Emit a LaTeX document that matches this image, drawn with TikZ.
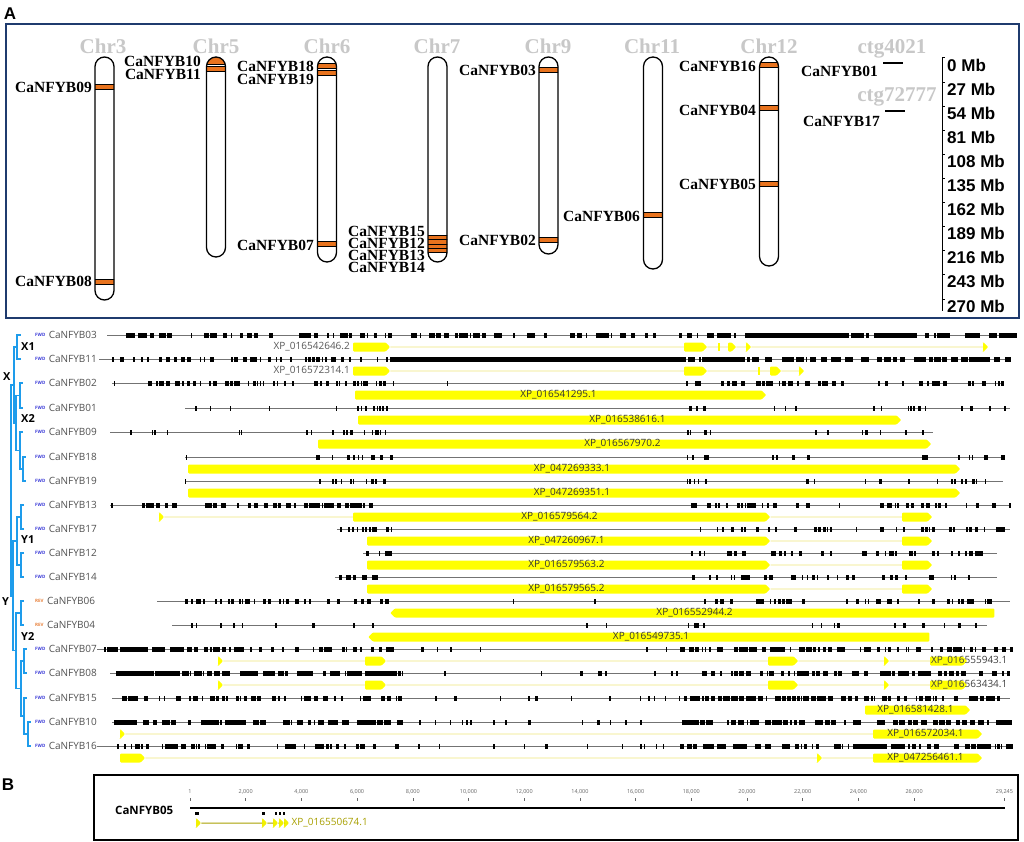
\documentclass[tikz,border=0pt]{standalone}
\usepackage{fontspec}
\setmainfont{Liberation Serif}
\newfontfamily\osans{Open Sans}
\newfontfamily\lsans{Liberation Sans}
\usetikzlibrary{positioning,shapes.symbols}

\definecolor{frameblue}{HTML}{1F3B6E}
\definecolor{bandorange}{HTML}{E8731E}
\definecolor{chrgray}{HTML}{C8C8C8}
\definecolor{treeblue}{HTML}{1E9CEB}
\definecolor{fwdblue}{HTML}{3A3AD8}
\definecolor{revorange}{HTML}{E8803A}
\definecolor{cdsyellow}{HTML}{FFFF00}
\definecolor{intronyellow}{HTML}{EEE87A}
\definecolor{olivetext}{HTML}{A8A000}

\tikzset{
  chrom/.style={draw, line width=1.3pt, rounded corners=9.5pt, minimum width=19pt, inner sep=0pt},
  band/.style={fill=bandorange, draw=black, line width=0.8pt},
  chrlab/.style={text=chrgray, font=\bfseries\fontsize{21}{21}\selectfont, inner sep=0pt},
  glab/.style={font=\bfseries\fontsize{15.5}{16}\selectfont, inner sep=1pt, anchor=east},
  mblab/.style={font=\lsans\bfseries\fontsize{17}{17}\selectfont, anchor=west, inner sep=0pt},
  plab/.style={font=\lsans\bfseries\fontsize{17}{17}\selectfont, inner sep=0pt},
  ctgbar/.style={fill=black, minimum width=20pt, minimum height=1.8pt, inner sep=0pt},
  tree/.style={draw=treeblue, line width=1.2pt},
  clade/.style={font=\osans\bfseries\fontsize{11}{11}\selectfont, inner sep=0pt, anchor=west},
  fwd/.style={text=fwdblue, font=\osans\bfseries\fontsize{4.5}{5}\selectfont, inner sep=0pt, anchor=west},
  rev/.style={fwd, text=revorange},
  gname/.style={text=black!68, font=\osans\fontsize{10}{10}\selectfont, inner sep=1pt},
  track/.style={draw=black!55, line width=0.7pt},
  exon/.style={fill=black},
  cds/.style={signal, signal to=east, fill=cdsyellow, minimum height=9pt, inner sep=0pt,
    text height=6.5pt, text depth=1.5pt, rounded corners=1pt, anchor=west,
    text=black!80, font=\osans\fontsize{10}{10}\selectfont},
  cdsl/.style={cds, signal to=west},
  tri/.style={cds, minimum width=5pt},
  tick/.style={fill=cdsyellow, minimum width=1.3pt, minimum height=8pt, inner sep=0pt},
  intron/.style={draw=intronyellow, line width=0.7pt},
  xlab/.style={text=black!65, font=\osans\fontsize{10}{10}\selectfont, inner sep=0pt},
  ruler/.style={text=black!60, font=\osans\fontsize{5.5}{6}\selectfont, inner sep=0pt}
}

\newcommand\chromosome[5]{%
  \begin{scope}
    \clip[rounded corners=9.5pt] (#2-9.5,#3) rectangle (#2+9.5,#4);
    \foreach \ya/\yb in {#5}
      \filldraw[band] (#2-11,\ya) rectangle (#2+11,\yb);
  \end{scope}
  \node (#1) [chrom, minimum height={#4-#3}] at (#2,{(#3+#4)/2}) {};}

\newcommand\exonset[5]{%
  \foreach \k in {1,...,#4}{%
    \pgfmathsetmacro\ex{#2+rnd*(#3-#2)}%
    \pgfmathsetmacro\ew{0.8+rnd*(#5-0.8)}%
    \fill[exon] (\ex,#1-2.5) rectangle ++(\ew,5);
  }}

\begin{document}
\begin{tikzpicture}[x=1pt, y=-1pt]
\useasboundingbox[fill=white] (0,0) rectangle (1024,842);
\pgfmathsetseed{4021}

% panel A: chromosome map
\node (pA) [plab] at (10,14) {A};
\node (boxA) [draw=frameblue, line width=2pt, minimum width=1013pt, minimum height=294pt, inner sep=0pt] at (512.5,171) {};

\chromosome{chr3}{104.5}{57}{300}{84/89, 279/284}
\chromosome{chr5}{216}{57}{257}{50/64, 66.5/71.5}
\chromosome{chr6}{327}{57}{262}{63.5/68.5, 70/75, 241/246}
\chromosome{chr7}{437.5}{57}{262}{235/239.5, 239.5/244, 244/248, 248/252.5}
\chromosome{chr9}{548.5}{57}{254}{67/72, 237.5/242.5}
\chromosome{chr11}{653}{57}{269}{212.5/217.5}
\chromosome{chr12}{769}{57}{266}{62.5/67.5, 105/110, 181/186}

\foreach \c/\x in {3/103, 5/216, 6/327, 7/437, 9/548, 11/652, 12/769}
  \node (lchr\c) [chrlab] at (\x,46) {Chr\c};
\node (lctg1) [chrlab] at (892,49) {ctg4021};
\node (lctg2) [chrlab] at (897,97) {ctg72777};
\node (ctg4021) [ctgbar] at (893,63) {};
\node (ctg72777) [ctgbar] at (895,111) {};

\foreach \g/\x/\y in {09/93/87, 08/93/281, 10/202/61, 11/202/74.5, 18/315/66.5, 19/315/79,
    07/315/245, 15/426/231, 12/426/243.5, 13/426/255.5, 14/426/267.5, 03/537/70.5,
    02/537/240, 06/641/216, 16/757/66.5, 04/757/110, 05/757/184, 01/879/71, 17/881/121.5}
  \node (g\g) [glab] at (\x,\y) {CaNFYB\g};

% scale in Mb
\draw[line width=1pt] (942,58) -- (942,311);
\foreach \i/\m in {0/0, 1/27, 2/54, 3/81, 4/108, 5/135, 6/162, 7/189, 8/216, 9/243, 10/270} {
  \draw[line width=1pt] (942,{58+24.1*\i}) -- ++(3,0);
  \node (mb\i) [mblab] at (947,{65+24.1*\i}) {\m\ Mb};
}

% tree and gene names
\foreach \g/\d/\s/\y in {03/fwd/FWD/335, 11/fwd/FWD/359, 02/fwd/FWD/383, 01/fwd/FWD/408,
    09/fwd/FWD/432, 18/fwd/FWD/457, 19/fwd/FWD/481, 13/fwd/FWD/505, 17/fwd/FWD/529,
    12/fwd/FWD/553, 14/fwd/FWD/577, 06/rev/REV/601, 04/rev/REV/625, 07/fwd/FWD/649,
    08/fwd/FWD/673, 15/fwd/FWD/698, 10/fwd/FWD/722, 16/fwd/FWD/746} {
  \node (f\g) [\d] at (35,\y) {\s};
  \node (n\g) [gname, right=2pt of f\g] {CaNFYB\g};
}

\foreach \g/\x/\y in {03/21/335, 11/21/359, 02/23/383, 01/23/408, 09/23/432, 18/26/457,
    19/26/481, 13/24/505, 17/24/529, 12/24/553, 14/24/577, 06/24/601, 04/24/625,
    07/27/649, 08/27/673, 15/27/698, 10/31/722, 16/31/746}
  \coordinate (t\g) at (\x,\y);
\coordinate (cX1) at (17,347);
\coordinate (c0201) at (20,395.5);
\coordinate (c1819) at (23,469);
\coordinate (c0918) at (20,450.5);
\coordinate (cX2) at (16,423);
\coordinate (cX) at (14,385);
\coordinate (c1317) at (21,517);
\coordinate (c1214) at (21,565);
\coordinate (cY1) at (17,541);
\coordinate (c0604) at (21,613);
\coordinate (c0708) at (24,661);
\coordinate (c1016) at (28,734);
\coordinate (c1510) at (24,716);
\coordinate (c0715) at (21,688.5);
\coordinate (cY2) at (16,650.75);
\coordinate (cY) at (13,596);
\coordinate (root) at (11,490.5);
\foreach \p/\q in {cX1/t03, cX1/t11, c0201/t02, c0201/t01, c1819/t18, c1819/t19,
    c0918/t09, c0918/c1819, cX2/c0201, cX2/c0918, cX/cX1, cX/cX2,
    c1317/t13, c1317/t17, c1214/t12, c1214/t14, cY1/c1317, cY1/c1214,
    c0604/t06, c0604/t04, c0708/t07, c0708/t08, c1016/t10, c1016/t16,
    c1510/t15, c1510/c1016, c0715/c0708, c0715/c1510, cY2/c0604, cY2/c0715,
    cY/cY1, cY/cY2, root/cX, root/cY}
  \draw[tree] (\p) |- (\q);
\node (lX) [clade] at (3,377) {X};
\node (lY) [clade] at (2,602) {Y};
\node (lX1) [clade] at (21,347) {X1};
\node (lX2) [clade] at (21,419) {X2};
\node (lY1) [clade] at (21,540) {Y1};
\node (lY2) [clade] at (21,637) {Y2};

% gene structures
\foreach \y/\a/\b in {335/107/1008, 359/99/1008, 383/112/1003, 408/185/1010, 432/110/933,
    457/185/1003, 481/185/1003, 505/110/1010, 529/337/1010, 553/363/997, 577/335/997,
    601/157/1010, 625/172/987, 649/97/1010, 673/110/1010, 698/112/1010, 722/112/1010, 746/97/1010}
  \draw[track] (\a,\y) -- (\b,\y);
\foreach \y/\a/\b/\n/\w in {335/108/707/105/5, 335/707/1008/60/14,
    359/110/390/50/3.5, 359/686/1008/90/7,
    383/112/116/1/2, 383/148/395/55/4, 383/440/450/1/1.5, 383/686/845/32/4, 383/870/1003/20/3,
    408/185/345/5/2, 408/355/392/9/2.5, 408/686/712/5/2.5, 408/770/830/3/2.5, 408/870/925/9/2.5, 408/960/1010/4/2.5,
    432/110/260/6/2, 432/300/392/13/3, 432/686/712/5/2.5, 432/770/935/7/2.5,
    457/185/187/1/1.5, 457/315/392/13/2.5, 457/686/712/5/2.5, 457/770/940/7/3, 457/950/1003/8/2.5,
    481/185/187/1/1.5, 481/315/392/13/2.5, 481/686/712/5/2.5, 481/770/940/7/3, 481/950/1003/8/2.5,
    505/110/113/1/3, 505/140/392/55/4, 505/686/1010/45/3.5,
    529/337/392/13/2.5, 529/686/1010/42/3.5,
    553/363/392/8/3, 553/686/997/36/3.5,
    577/335/392/13/3, 577/686/997/36/3.5,
    601/180/392/38/3.5, 601/505/515/1/1.5, 601/585/595/1/1.5, 601/686/1010/42/3.5,
    625/172/392/9/3, 625/585/610/2/1.5, 625/686/712/5/4, 625/800/845/6/3, 625/880/987/9/3,
    649/97/180/28/7, 649/180/400/40/4, 649/400/680/8/2, 649/680/1010/80/5,
    673/110/400/85/8, 673/400/680/10/2.5, 673/680/1010/80/5,
    698/112/400/60/4.5, 698/400/680/12/2.5, 698/680/1010/80/5,
    722/112/400/70/7, 722/400/680/14/3, 722/680/1010/85/6,
    746/97/400/55/5, 746/400/680/12/3, 746/680/1010/85/5}
  \exonset{\y}{\a}{\b}{\n}{\w};
\fill[exon] (390,356.5) rectangle (686,361.5);

% coding sequences
\node (p03a) [cds, minimum width=37pt] at (353,347) {};
\node (x03) [xlab, left=3pt of p03a] {XP\_016542646.2};
\node (p03b) [cds, minimum width=23pt] at (684,347) {};
\node (p03c) [tick] at (719,347) {};
\node (p03d) [cds, minimum width=8pt] at (728,347) {};
\node (p03e) [tri] at (746,347) {};
\node (p03f) [tri] at (983,347) {};
\draw[intron] (p03a) -- (p03b) -- (p03c) -- (p03d) -- (p03e) -- (p03f);

\node (p11a) [cds, minimum width=37pt] at (353,371) {};
\node (x11) [xlab, left=3pt of p11a] {XP\_016572314.1};
\node (p11b) [cds, minimum width=23pt] at (684,371) {};
\node (p11c) [tick] at (759,371) {};
\node (p11d) [cds, minimum width=11pt] at (770,371) {};
\node (p11e) [tri] at (799,371) {};
\draw[intron] (p11a) -- (p11b) -- (p11c) -- (p11d) -- (p11e);

\node (p02) [cds, minimum width=411pt] at (355,395) {XP\_016541295.1};
\node (p01) [cds, minimum width=543pt] at (358,420) {XP\_016538616.1};
\node (p09) [cds, minimum width=613pt] at (318,444) {XP\_016567970.2};
\node (p18) [cds, minimum width=772pt] at (188,469) {XP\_047269333.1};
\node (p19) [cds, minimum width=772pt] at (188,493) {XP\_047269351.1};

\node (p13a) [tri] at (159,517) {};
\node (p13b) [cds, minimum width=417pt] at (353,517) {XP\_016579564.2};
\node (p13c) [cds, minimum width=30pt] at (902,517) {};
\draw[intron] (p13a) -- (p13b) -- (p13c);
\foreach \g/\y/\t in {17/541/XP\_047260967.1, 12/565/XP\_016579563.2, 14/589/XP\_016579565.2} {
  \node (p\g b) [cds, minimum width=403pt] at (367,\y) {\t};
  \node (p\g c) [cds, minimum width=30pt] at (902,\y) {};
  \draw[intron] (p\g b) -- (p\g c);
}

\node (p06) [cdsl, minimum width=604pt] at (390,613) {XP\_016552944.2};
\node (p04) [cdsl, minimum width=561pt] at (368,637) {XP\_016549735.1};

\foreach \g/\y/\t in {07/661/XP\_016555943.1, 08/685/XP\_016563434.1} {
  \node (p\g a) [tri] at (218,\y) {};
  \node (p\g b) [cds, minimum width=21pt] at (365,\y) {};
  \node (p\g c) [cds, minimum width=30pt] at (768,\y) {};
  \node (p\g d) [tri] at (884,\y) {};
  \node (p\g e) [cds, minimum width=37pt] at (930,\y) {};
  \node (x\g) [xlab, anchor=west, text=black!75] at (931,\y) {\t};
  \draw[intron] (p\g a) -- (p\g b) -- (p\g c) -- (p\g d) -- (p\g e);
}

\node (p15) [cds, minimum width=105pt] at (865,710) {XP\_016581428.1};
\node (p10a) [tri] at (120,734) {};
\node (p10b) [cds, minimum width=109pt] at (873,734) {XP\_016572034.1};
\draw[intron] (p10a) -- (p10b);
\node (p16a) [cds, minimum width=25pt] at (120,758) {};
\node (p16b) [tri] at (817,758) {};
\node (p16c) [cds, minimum width=109pt] at (873,758) {XP\_047256461.1};
\draw[intron] (p16a) -- (p16b) -- (p16c);

% panel B
\node (pB) [plab] at (8,785) {B};
\node (boxB) [draw, line width=1.6pt, minimum width=924pt, minimum height=65pt, inner sep=0pt] at (556,807.5) {};
\node (n05) [font=\osans\bfseries\fontsize{11.5}{12}\selectfont, inner sep=0pt, anchor=west] at (115,810) {CaNFYB05};
\draw[line width=2.5pt] (190,808) -- (1004.5,808);
\foreach \kb/\lab in {0.001/1, 2/{2,000}, 4/{4,000}, 6/{6,000}, 8/{8,000}, 10/{10,000},
    12/{12,000}, 14/{14,000}, 16/{16,000}, 18/{18,000}, 20/{20,000},
    22/{22,000}, 24/{24,000}, 26/{26,000}, 29.245/{29,245}} {
  \node (r\kb) [ruler] at ({190+27.85*\kb},792) {\lab};
  \draw[black!60, line width=0.6pt] ({190+27.85*\kb},798) -- ++(0,3);
}
\foreach \x/\w in {195/4, 262/3, 275/2, 279/2, 283/2}
  \fill[exon] (\x,811.5) rectangle ++(\w,3.5);
\node (q05a) [tri, fill=cdsyellow!85!olivetext] at (196,823) {};
\node (q05b) [tri, fill=cdsyellow!85!olivetext] at (262,823) {};
\node (q05c) [tri, fill=cdsyellow!85!olivetext] at (273,823) {};
\node (q05d) [tri, fill=cdsyellow!85!olivetext] at (279,823) {};
\node (q05e) [tri, fill=cdsyellow!85!olivetext] at (284,823) {};
\draw[draw=olivetext, line width=1pt] (q05a) -- (q05b) -- (q05c) -- (q05d) -- (q05e);
\node (x05) [xlab, text=olivetext, right=2pt of q05e] {XP\_016550674.1};
\end{tikzpicture}
\end{document}
